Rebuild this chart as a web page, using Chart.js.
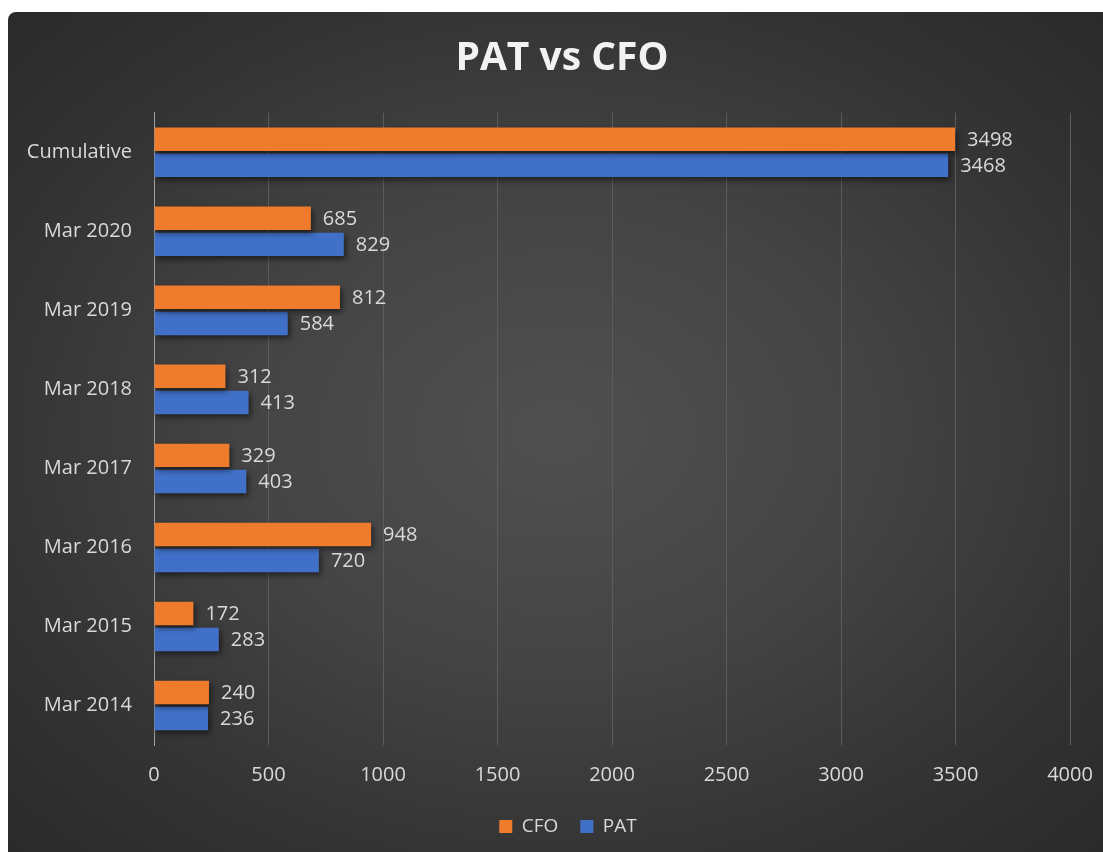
<!DOCTYPE html>
<html>
<head>
<meta charset="utf-8">
<script src="https://cdn.jsdelivr.net/npm/chart.js@4"></script>
<style>
  body { margin: 0; background: #fff; }
  #panel {
    position: absolute; left: 8px; top: 12px; width: 1095px; height: 840px;
    overflow: hidden;
    border-radius: 8px 0 0 0;
    background: radial-gradient(ellipse at 50% 50%, #505050 0%, #444 40%, #333 75%, #2a2a2a 100%);
  }
  canvas { display: block; }
</style>
</head>
<body>
<div id="panel"><canvas id="grafico" width="1095" height="844"></canvas></div>
<script>
// datos
const periodos = ['Cumulative', 'Mar 2020', 'Mar 2019', 'Mar 2018', 'Mar 2017', 'Mar 2016', 'Mar 2015', 'Mar 2014']
const valoresCFO = [3498, 685, 812, 312, 329, 948, 172, 240]
const valoresPAT = [3468, 829, 584, 413, 403, 720, 283, 236]
const ticksX = [0, 500, 1000, 1500, 2000, 2500, 3000, 3500, 4000]

const colorTexto = '#d9d9d9'
const fuente = 'Open Sans'

// sombra bajo las barras
const sombraBarras = {
  id: 'sombraBarras',
  beforeDatasetsDraw(chart) {
    const ctx = chart.ctx
    ctx.save()
    ctx.shadowColor = 'rgba(0,0,0,0.55)'
    ctx.shadowBlur = 6
    ctx.shadowOffsetX = 2
    ctx.shadowOffsetY = 3
  },
  afterDatasetsDraw(chart) {
    chart.ctx.restore()
  }
}

// etiquetas de valor al final de cada barra
const etiquetasValor = {
  id: 'etiquetasValor',
  afterDatasetsDraw(chart) {
    const ctx = chart.ctx
    ctx.save()
    ctx.font = '20px "' + fuente + '"'
    ctx.fillStyle = colorTexto
    ctx.textBaseline = 'middle'
    ctx.textAlign = 'left'
    chart.data.datasets.forEach((ds, i) => {
      chart.getDatasetMeta(i).data.forEach((barra, j) => {
        ctx.fillText(ds.data[j], barra.x + 12, barra.y + 1)
      })
    })
    ctx.restore()
  }
}

// el titulo y la leyenda van un poco desplazados en el original
const moverCajas = {
  id: 'moverCajas',
  afterLayout(chart) {
    if (chart.titleBlock) { chart.titleBlock.left += 7; chart.titleBlock.right += 7 }
    if (chart.legend) {
      chart.legend.left += 13; chart.legend.right += 13
      chart.legend.top -= 10; chart.legend.bottom -= 10
    }
  }
}

new Chart(document.getElementById('grafico'), {
  type: 'bar',
  data: {
    labels: periodos,
    datasets: [
      { label: 'CFO', data: valoresCFO, backgroundColor: '#EF7B2D', barPercentage: 0.9, categoryPercentage: 0.66 },
      { label: 'PAT', data: valoresPAT, backgroundColor: '#4170C8', barPercentage: 0.9, categoryPercentage: 0.66 }
    ]
  },
  options: {
    indexAxis: 'y',
    responsive: false,
    animation: false,
    layout: { padding: { left: 10, right: 11, top: 0, bottom: 0 } },
    plugins: {
      title: {
        display: true,
        text: 'PAT vs CFO',
        color: '#f2f2f2',
        font: { family: fuente, size: 39, weight: 'bold' },
        padding: { top: 23, bottom: 31 }
      },
      legend: {
        position: 'bottom',
        labels: {
          color: colorTexto,
          font: { family: fuente, size: 19 },
          boxWidth: 13,
          boxHeight: 13,
          padding: 22
        }
      },
      tooltip: { enabled: false }
    },
    scales: {
      x: {
        min: 0,
        max: 4000,
        afterBuildTicks: scale => { scale.ticks = ticksX.map(v => ({ value: v })) },
        afterFit: scale => { scale.paddingRight = 33 },
        ticks: { color: colorTexto, font: { family: fuente, size: 20 }, padding: 18, callback: v => String(v) },
        grid: { color: '#5c5c5c', lineWidth: 1, drawTicks: false },
        border: { display: false }
      },
      y: {
        ticks: { color: colorTexto, font: { family: fuente, size: 20 }, padding: 22 },
        grid: { display: false, drawTicks: false },
        border: { display: true, color: '#a0a0a0', width: 1 },
        afterFit: scale => { scale.width = 136 }
      }
    }
  },
  plugins: [sombraBarras, etiquetasValor, moverCajas]
})
</script>
</body>
</html>
